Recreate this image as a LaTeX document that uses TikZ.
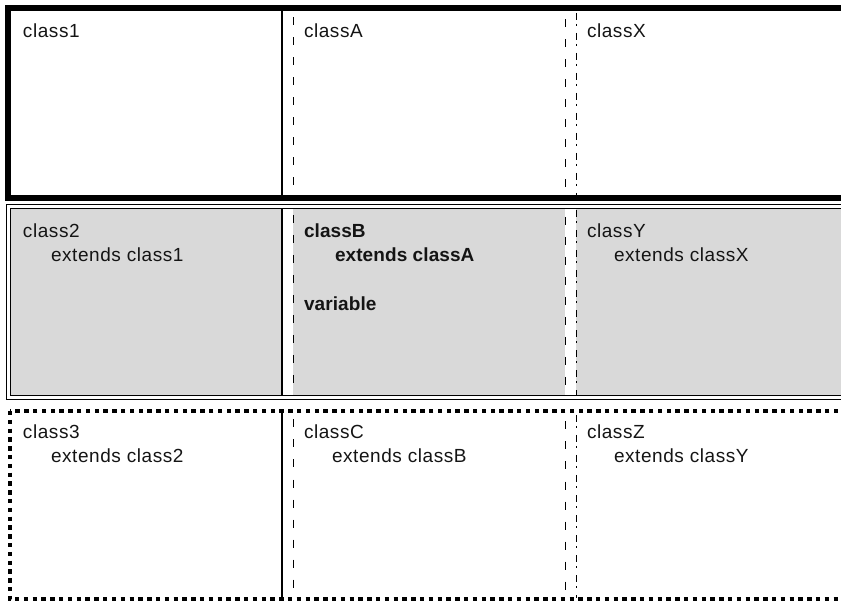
\documentclass[tikz,border=0pt]{standalone}
\usepackage{fontspec}
\setmainfont{Liberation Sans}[LetterSpace=3,BoldFeatures={LetterSpace=0.5}]
\definecolor{cellgray}{RGB}{217,217,217}
\tikzset{
  lbl/.style={anchor=base west,inner sep=0pt,outer sep=0pt,text=black!92,font=\fontsize{19}{24}\selectfont},
  blbl/.style={lbl,font=\fontsize{19}{24}\selectfont\bfseries},
  thickrow/.style={draw=black,line width=6.3pt},
  dblrow/.style={draw=black,line width=1.3pt},
  dotrow/.style={draw=black,line width=4.6pt,dash pattern=on 4.4pt off 4.4pt},
  solidsep/.style={draw=black,line width=1.2pt},
  dashsep/.style={draw=black,line width=1pt,dash pattern=on 8pt off 12pt},
  dashdotsep/.style={draw=black,line width=1pt,dash pattern=on 7pt off 4pt on 2pt off 7pt}
}
\begin{document}
\begin{tikzpicture}[x=1pt,y=-1pt]
\useasboundingbox (0,0) rectangle (841,601);
\clip (0,0) rectangle (841,601);
% row 2 background
\fill[cellgray] (10.3,208.5) rectangle (900,395.5);
\fill[white] (282,208.5) rectangle (293,395.5);
\fill[white] (565,208.5) rectangle (576,395.5);
% row borders
\draw[thickrow] (8.3,8.3) rectangle (900,198.3);
\draw[dblrow] (6.8,204.5) rectangle (900,399.5);
\draw[dblrow] (10.3,208.3) rectangle (895,395.5);
\draw[dotrow] (10,411) rectangle (900,599.5);
% column separators
\foreach \t/\b in {11.5/195.2, 209/395, 413.5/597.5}{
  \draw[solidsep] (282,\t) -- (282,\b);
  \draw[dashsep] (293,\t+6) -- (293,\b);
  \draw[dashsep] (565,\t+8) -- (565,\b);
  \draw[dashdotsep] (576,\t+1.5) -- (576,\b);
}
% row 1 texts
\node[lbl] (t1) at (23,38) {class1};
\node[lbl] (tA) at (304,38) {classA};
\node[lbl] (tX) at (587,38) {classX};
% row 2 texts
\node[lbl] (t2) at (23,237.7) {class2};
\node[lbl] (t2e) at (51,261.7) {extends class1};
\node[blbl] (tB) at (304,237.2) {classB};
\node[blbl] (tBe) at (335,261.5) {extends classA};
\node[blbl] (tBv) at (304,310.5) {variable};
\node[lbl] (tY) at (587,237.7) {classY};
\node[lbl] (tYe) at (614,261.7) {extends classX};
% row 3 texts
\node[lbl] (t3) at (23,438.3) {class3};
\node[lbl] (t3e) at (51,462.7) {extends class2};
\node[lbl] (tC) at (304,438.3) {classC};
\node[lbl] (tCe) at (332,462.7) {extends classB};
\node[lbl] (tZ) at (587,438.3) {classZ};
\node[lbl] (tZe) at (614,462.7) {extends classY};
\end{tikzpicture}
\end{document}
